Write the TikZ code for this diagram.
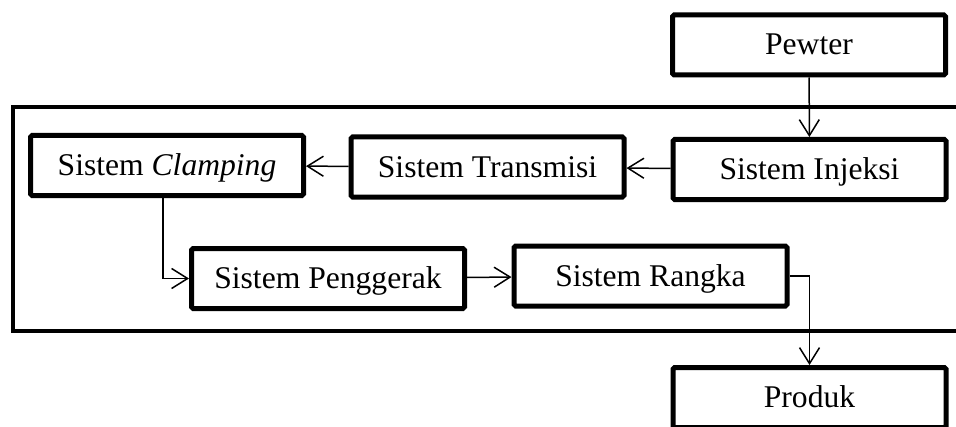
\documentclass[tikz,border=0pt]{standalone}
\usepackage{fontspec}
\setmainfont{Liberation Serif}
\usepackage{tikz}
\usetikzlibrary{arrows.meta, positioning}
\tikzstyle{arrow} = [line width=0.75pt,-{Straight Barb[length=8pt,width=10pt]}]

\begin{document}
\begin{tikzpicture}[
    x=0.5pt, y=-0.5pt,
    block/.style={rectangle, draw, line width=2.5pt, rounded corners=0.8pt, fill=white, minimum width=136.5pt, minimum height=30pt, text centered, font=\fontsize{15.8}{19}\selectfont, inner sep=0pt, text height=10pt, text depth=0pt},
    frame/.style={rectangle, draw, line width=2pt}
  ]
    \clip (0,0) rectangle (956,427);
    \fill[white] (0,0) rectangle (956,427);

    % Machine frame
    \draw[frame] (13,107) rectangle (975,331);

    % Input and output
    \node[block] (pewter) at (809,45) {Pewter};
    \node[block] (produk) at (809.5,397.5) {Produk};

    % Subsystems
    \node[block] (injeksi) at (809.5,169.5) {Sistem Injeksi};
    \node[block] (transmisi) at (487.5,167) {Sistem Transmisi};
    \node[block] (clamping) at (167,165.5) {Sistem \textit{Clamping}};
    \node[block] (penggerak) at (328,278.5) {Sistem Penggerak};
    \node[block] (rangka) at (650.5,276) {Sistem Rangka};

    \draw[arrow] (pewter) -- (injeksi);
    \draw[arrow] (injeksi) -- (transmisi);
    \draw[arrow] (transmisi) -- (clamping);
    \draw[arrow] ([xshift=-2pt]clamping.south) |- (penggerak.west);
    \draw[arrow] (penggerak) -- (rangka);
    \draw[arrow] (rangka.east) -| (produk.north);
  \end{tikzpicture}
\end{document}
